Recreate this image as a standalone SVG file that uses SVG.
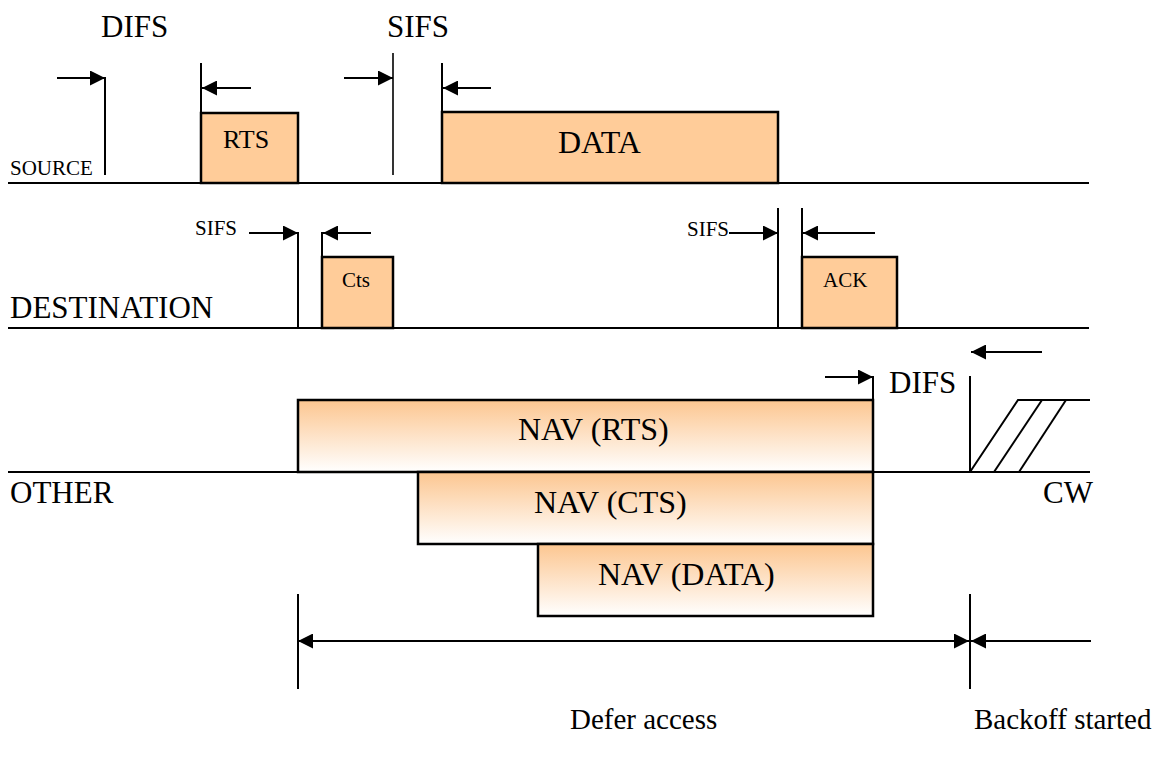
<svg xmlns="http://www.w3.org/2000/svg" width="1159" height="757" viewBox="0 0 1159 757">
  <defs>
    <marker id="head" viewBox="0 0 15 15" refX="15" refY="7.5" markerWidth="15" markerHeight="15" markerUnits="userSpaceOnUse" orient="auto-start-reverse">
      <path d="M0,0 L15,7.5 L0,15 Z" fill="#000"/>
    </marker>
    <linearGradient id="navFill" x1="0" y1="0" x2="0" y2="1">
      <stop offset="0" stop-color="#FCC690"/>
      <stop offset="1" stop-color="#FFFFFF"/>
    </linearGradient>
    <style>
      text { font-family: 'Liberation Serif', Tinos, 'DejaVu Serif', serif; fill: #000; }
      .big { font-size: 31px; }
      .navtxt { font-size: 32px; }
      .mid { font-size: 26px; }
      .sm { font-size: 21px; }
      .axis { stroke: #000; stroke-width: 2; fill: none; }
      .tick { stroke: #000; stroke-width: 2; fill: none; }
      .arrow { stroke: #000; stroke-width: 2; fill: none; marker-end: url(#head); }
      .frame { fill: #FFCC99; stroke: #000; stroke-width: 2.5; }
      .nav { fill: url(#navFill); stroke: #000; stroke-width: 2.5; }
    </style>
  </defs>

  <rect width="1159" height="757" fill="#fff"/>

  <!-- station time lines -->
  <g id="timelines">
    <line class="axis" x1="8" y1="183" x2="1089" y2="183"/>
    <line class="axis" x1="8" y1="328" x2="1089" y2="328"/>
    <line class="axis" x1="8" y1="472" x2="1090" y2="472"/>
  </g>

  <!-- row labels -->
  <g id="labels">
    <text class="big" x="101" y="37">DIFS</text>
    <text class="big" x="387" y="37">SIFS</text>
    <text class="sm" x="10" y="175">SOURCE</text>
    <text class="big" x="10" y="318">DESTINATION</text>
    <text class="sm" x="195" y="235">SIFS</text>
    <text class="sm" x="687" y="236">SIFS</text>
    <text class="big" x="10" y="503">OTHER</text>
    <text class="big" x="889" y="393">DIFS</text>
    <text class="big" x="1043" y="503">CW</text>
    <text x="570" y="729" style="font-size:29px">Defer access</text>
    <text x="974" y="729" style="font-size:29px">Backoff started</text>
  </g>

  <!-- source frames -->
  <g id="rts">
    <rect class="frame" x="201" y="113" width="97" height="70"/>
    <text class="mid" x="223" y="148">RTS</text>
  </g>
  <g id="data">
    <rect class="frame" x="442" y="112" width="336" height="71"/>
    <text x="558" y="153" style="font-size:32px">DATA</text>
  </g>

  <!-- destination frames -->
  <g id="cts">
    <rect class="frame" x="322" y="257" width="71" height="71"/>
    <text class="sm" x="342" y="287">Cts</text>
  </g>
  <g id="ack">
    <rect class="frame" x="802" y="257" width="95" height="71"/>
    <text class="sm" x="823" y="287">ACK</text>
  </g>

  <!-- network allocation vectors -->
  <g id="nav-rts">
    <rect class="nav" x="298" y="400" width="575" height="72"/>
    <text class="navtxt" x="518" y="440">NAV (RTS)</text>
  </g>
  <g id="nav-cts">
    <rect class="nav" x="418" y="472" width="455" height="72"/>
    <text class="navtxt" x="534" y="513">NAV (CTS)</text>
  </g>
  <g id="nav-data">
    <rect class="nav" x="538" y="544" width="335" height="72"/>
    <text class="navtxt" x="598" y="585">NAV (DATA)</text>
  </g>

  <!-- contention window slots -->
  <g id="cw">
    <polyline class="axis" points="970,472 1018,400 1090,400"/>
    <line class="axis" x1="994" y1="472" x2="1042" y2="400"/>
    <line class="axis" x1="1019" y1="472" x2="1066" y2="400"/>
  </g>

  <!-- interval markers and arrows -->
  <g id="connectors">
    <!-- DIFS before RTS -->
    <line class="arrow" x1="57" y1="78" x2="105" y2="78"/>
    <line class="tick" x1="105" y1="77" x2="105" y2="175"/>
    <line class="tick" x1="201" y1="63" x2="201" y2="183"/>
    <line class="arrow" x1="251" y1="88" x2="202" y2="88"/>
    <!-- SIFS before DATA -->
    <line class="arrow" x1="344" y1="78" x2="393" y2="78"/>
    <line class="tick" x1="393" y1="53" x2="393" y2="175" style="stroke-width:1.6"/>
    <line class="tick" x1="442" y1="63" x2="442" y2="183"/>
    <line class="arrow" x1="491" y1="88" x2="443" y2="88"/>
    <!-- SIFS before CTS -->
    <line class="arrow" x1="249" y1="233" x2="298" y2="233"/>
    <line class="tick" x1="298" y1="232" x2="298" y2="328"/>
    <line class="tick" x1="322" y1="232" x2="322" y2="328"/>
    <line class="arrow" x1="371" y1="233" x2="323" y2="233"/>
    <!-- SIFS before ACK -->
    <line class="arrow" x1="729" y1="233" x2="778" y2="233"/>
    <line class="tick" x1="778" y1="208" x2="778" y2="328"/>
    <line class="tick" x1="802" y1="208" x2="802" y2="328"/>
    <line class="arrow" x1="875" y1="233" x2="803" y2="233"/>
    <!-- DIFS before backoff -->
    <line class="arrow" x1="825" y1="377" x2="873" y2="377"/>
    <line class="tick" x1="873" y1="376" x2="873" y2="400"/>
    <line class="arrow" x1="1042" y1="352" x2="971" y2="352"/>
    <line class="tick" x1="970" y1="376" x2="970" y2="472"/>
    <!-- defer / backoff spans -->
    <line class="tick" x1="298" y1="594" x2="298" y2="689"/>
    <line class="tick" x1="970" y1="594" x2="970" y2="689"/>
    <line class="arrow" x1="298" y1="641" x2="969" y2="641" style="marker-start:url(#head)"/>
    <line class="arrow" x1="1091" y1="641" x2="971" y2="641"/>
  </g>
</svg>
